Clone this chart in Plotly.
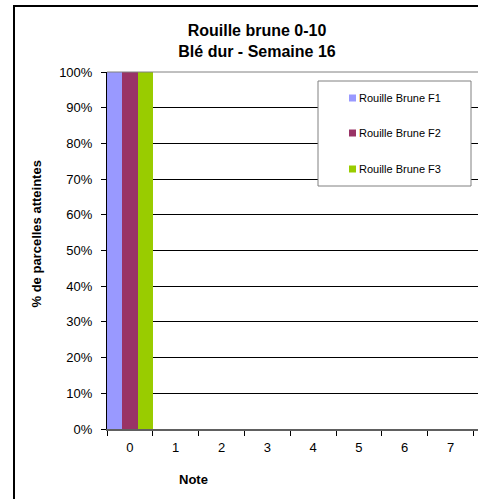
import plotly.graph_objects as go

# Notes 0 to 10 and share of plots affected (%) per leaf level
notes = ["0", "1", "2", "3", "4", "5", "6", "7", "8", "9", "10"]
series_names = ["Rouille Brune F1", "Rouille Brune F2", "Rouille Brune F3"]
f1_values = [100, 0, 0, 0, 0, 0, 0, 0, 0, 0, 0]
f2_values = [100, 0, 0, 0, 0, 0, 0, 0, 0, 0, 0]
f3_values = [100, 0, 0, 0, 0, 0, 0, 0, 0, 0, 0]
y_ticks = [0, 10, 20, 30, 40, 50, 60, 70, 80, 90, 100]

colors = ["#9999FF", "#993366", "#99CC00"]
FONT = "Liberation Sans, Arial, sans-serif"

W, H = 478, 499
L, R, T, B = 107, 0, 72, 70
PW, PH = W - L - R, H - T - B


def px(x):
    return (x - L) / PW


def py(y):
    return (H - B - y) / PH


fig = go.Figure()
for name, vals, col in zip(series_names, [f1_values, f2_values, f3_values], colors):
    fig.add_trace(go.Bar(x=notes, y=vals, name=name, marker=dict(color=col, line=dict(width=0)),
                         showlegend=False))

shapes = []
annotations = []

# outer chart frame
shapes.append(dict(type="line", xref="paper", yref="paper", x0=px(14), x1=px(14), y0=py(6), y1=py(520),
                   line=dict(color="black", width=2)))
shapes.append(dict(type="line", xref="paper", yref="paper", x0=px(13), x1=px(500), y0=py(6), y1=py(6),
                   line=dict(color="black", width=2)))
# plot-area top edge
shapes.append(dict(type="line", xref="paper", yref="paper", x0=0, x1=1.05, y0=1, y1=1,
                   line=dict(color="#808080", width=1)))

# legend box
lx0, lx1, ly0, ly1 = 318, 471, 81, 186
shapes.append(dict(type="rect", xref="paper", yref="paper", x0=px(lx0), x1=px(lx1), y0=py(ly0), y1=py(ly1),
                   line=dict(color="#808080", width=1), fillcolor="white", layer="above"))
for name, col, yc in zip(series_names, colors, [98, 133, 169]):
    shapes.append(dict(type="rect", xref="paper", yref="paper", x0=px(349), x1=px(356),
                       y0=py(yc - 3.5), y1=py(yc + 3.5), line=dict(width=0), fillcolor=col, layer="above"))
    annotations.append(dict(text=name, xref="paper", yref="paper", x=px(357), y=py(yc),
                            xanchor="left", yanchor="middle", showarrow=False,
                            font=dict(family=FONT, size=11, color="black")))

# axis titles
annotations.append(dict(text="<b>Note</b>", xref="paper", yref="paper", x=px(193), y=py(479),
                        xanchor="center", yanchor="middle", showarrow=False,
                        font=dict(family=FONT, size=13, color="black")))
annotations.append(dict(text="<b>% de parcelles atteintes</b>", xref="paper", yref="paper",
                        x=px(35.5), y=py(234), textangle=-90,
                        xanchor="center", yanchor="middle", showarrow=False,
                        font=dict(family=FONT, size=13, color="black")))

fig.update_layout(
    width=W, height=H,
    margin=dict(l=L, r=R, t=T, b=B),
    paper_bgcolor="white", plot_bgcolor="white",
    barmode="group", bargap=0, bargroupgap=0,
    title=dict(text="<b>Rouille brune 0-10<br>Blé dur - Semaine 16</b>",
               x=px(257), xref="paper", xanchor="center",
               y=1 - 36 / H, yref="container", yanchor="middle",
               font=dict(family=FONT, size=16, color="black")),
    shapes=shapes,
    annotations=annotations,
    xaxis=dict(type="category", range=[-0.5, 7.6], tickson="boundaries", ticks="outside", ticklen=5,
               tickcolor="black", showline=True, linecolor="#606060", linewidth=2, showgrid=False,
               tickfont=dict(family=FONT, size=13, color="black"), ticklabelstandoff=5),
    yaxis=dict(range=[0, 100], tickvals=y_ticks, ticktext=[f"{v}%" for v in y_ticks],
               ticks="outside", ticklen=5, tickcolor="black", showline=True, linecolor="black",
               linewidth=1, showgrid=True, gridcolor="black", gridwidth=1, zeroline=False,
               tickfont=dict(family=FONT, size=13, color="black"), ticklabelstandoff=6),
)

fig.write_html("out.html")
